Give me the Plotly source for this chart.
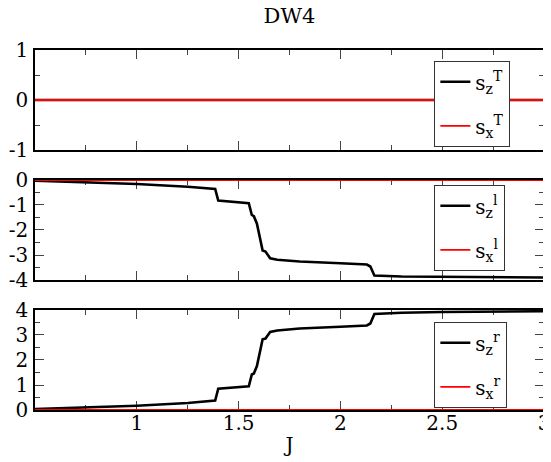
import plotly.graph_objects as go

# ---- data ----
J_total = [0.5, 3.0]
sz_T = [0.0, 0.0]
sx_T = [0.0, 0.0]

J_l = [0.5, 0.75, 1.0, 1.25, 1.385, 1.40, 1.55, 1.565, 1.575, 1.59, 1.605, 1.618, 1.632,
       1.655, 1.69, 1.8, 2.0, 2.13, 2.147, 2.167, 2.3, 2.5, 3.0]
sz_l = [-0.03, -0.09, -0.16, -0.27, -0.36, -0.82, -0.93, -1.40, -1.45, -1.75, -2.30, -2.82, -2.86,
        -3.13, -3.19, -3.26, -3.33, -3.38, -3.46, -3.82, -3.86, -3.88, -3.90]
J_l_x = [0.5, 3.0]
sx_l = [0.0, 0.0]

J_r = [0.5, 0.75, 1.0, 1.25, 1.385, 1.40, 1.55, 1.565, 1.575, 1.59, 1.605, 1.618, 1.632,
       1.655, 1.69, 1.8, 2.0, 2.13, 2.147, 2.167, 2.3, 2.5, 3.0]
sz_r = [0.04, 0.10, 0.17, 0.28, 0.38, 0.85, 0.95, 1.42, 1.46, 1.76, 2.30, 2.83, 2.86,
        3.12, 3.18, 3.26, 3.33, 3.38, 3.46, 3.84, 3.89, 3.92, 3.95]
J_r_x = [0.5, 3.0]
sx_r = [0.0, 0.0]

x_tickvals = [1, 1.5, 2, 2.5, 3]
x_ticktext = ["1", "1.5", "2", "2.5", "3"]
y1_tickvals = [-1, 0, 1]
y1_ticktext = ["-1", "0", "1"]
y2_tickvals = [-4, -3, -2, -1, 0]
y2_ticktext = ["-4", "-3", "-2", "-1", "0"]
y3_tickvals = [0, 1, 2, 3, 4]
y3_ticktext = ["0", "1", "2", "3", "4"]

FONT = "DejaVu Serif"

fig = go.Figure()

def add_pair(x_z, y_z, x_x, y_x, xa, ya, leg, sup):
    fig.add_trace(go.Scatter(x=x_z, y=y_z, mode="lines", xaxis=xa, yaxis=ya,
                             line=dict(color="black", width=2.6), legend=leg,
                             legendgroup=leg + "z",
                             name="s<sub>z</sub><sup>" + sup + "</sup>"))
    fig.add_trace(go.Scatter(x=x_x, y=y_x, mode="lines", xaxis=xa, yaxis=ya,
                             line=dict(color="#ff0000", width=1.8), legend=leg,
                             legendgroup=leg + "x",
                             name="s<sub>x</sub><sup>" + sup + "</sup>"))

add_pair(J_total, sz_T, J_total, sx_T, "x", "y", "legend", "T")
add_pair(J_l, sz_l, J_l_x, sx_l, "x2", "y2", "legend2", "l")
add_pair(J_r, sz_r, J_r_x, sx_r, "x3", "y3", "legend3", "r")

common_axis = dict(showline=True, linecolor="black", linewidth=1.6, mirror="allticks",
                   ticks="inside", ticklen=9, tickwidth=1, tickcolor="#444",
                   showgrid=False, zeroline=False, layer="below traces", automargin=False,
                   tickfont=dict(family=FONT, size=20, color="black"))

xr = [0.5, 3.0]
for i, xa in enumerate(["xaxis", "xaxis2", "xaxis3"]):
    d = dict(common_axis)
    d.update(range=xr, tickvals=x_tickvals, ticktext=x_ticktext,
             minor=dict(ticks="inside", ticklen=5, dtick=0.25, tick0=0.5, tickcolor="#444"),
             anchor=["y", "y2", "y3"][i], showticklabels=(i == 2))
    if i == 2:
        d.update(title=dict(text="J", font=dict(family=FONT, size=20, color="black"), standoff=4),
                 ticklabelstandoff=-6)
    else:
        d.update(matches="x3")
    fig.layout[xa] = d

doms = [[0.7222, 1.0], [0.3611, 0.6389], [0.0, 0.2778]]
ranges = [[-1, 1], [-4, 0], [0, 4]]
tvs = [(y1_tickvals, y1_ticktext), (y2_tickvals, y2_ticktext), (y3_tickvals, y3_ticktext)]
for i, ya in enumerate(["yaxis", "yaxis2", "yaxis3"]):
    d = dict(common_axis)
    d.update(domain=doms[i], range=ranges[i], tickvals=tvs[i][0], ticktext=tvs[i][1],
             minor=dict(ticks="inside", ticklen=5, dtick=0.5, tick0=0, tickcolor="#444"),
             anchor=["x", "x2", "x3"][i], ticklabelstandoff=1)
    fig.layout[ya] = d

leg_common = dict(bgcolor="white", bordercolor="#333", borderwidth=1.3,
                  font=dict(family=FONT, size=20, color="black"),
                  xanchor="left", yanchor="top", itemwidth=30, tracegroupgap=15)
fig.update_layout(
    legend=dict(leg_common, x=0.784, y=0.9694),
    legend2=dict(leg_common, x=0.784, y=0.625),
    legend3=dict(leg_common, x=0.784, y=0.2444),
)

fig.update_layout(
    width=543, height=454,
    margin=dict(l=27, r=7, t=42, b=52),
    paper_bgcolor="white", plot_bgcolor="white",
    title=dict(text="DW4", xref="paper", x=0.5, xanchor="center",
               yref="container", y=1.0, yanchor="top", pad=dict(t=0),
               font=dict(family=FONT, size=21, color="black")),
    showlegend=True,
)

fig.write_html("out.html")
